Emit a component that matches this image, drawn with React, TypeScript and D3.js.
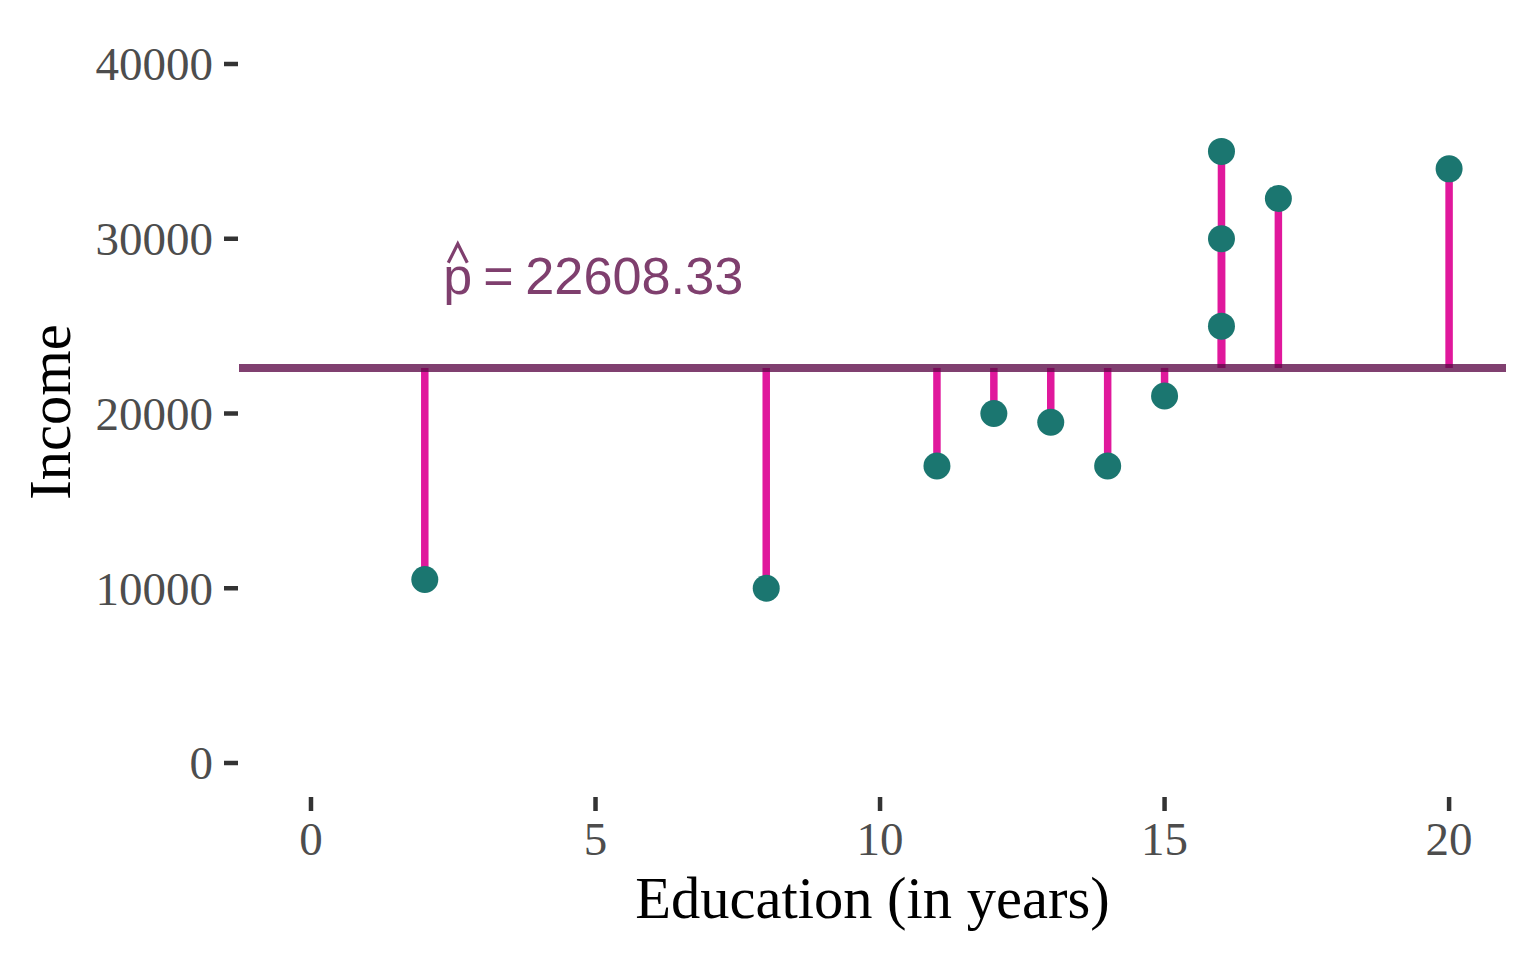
import React from "react";
import * as d3 from "d3";

const education = [2, 8, 11, 12, 13, 14, 15, 16, 16, 16, 17, 20];
const income = [10500, 10000, 17000, 20000, 19500, 17000, 21000, 35000, 30000, 25000, 32300, 34000];
const xTicks = [0, 5, 10, 15, 20];
const yTicks = [0, 10000, 20000, 30000, 40000];
const annotationX = 2.36;
const annotationY = 26850;

const W = 1536;
const H = 960;
const serif = "'Liberation Serif', 'Times New Roman', serif";

export default function App() {
  const meanIncome = d3.mean(income) as number;
  const x = d3.scaleLinear().domain([-1.265, 21.0]).range([239, 1506]);
  const y = d3.scaleLinear().domain([0, 40000]).range([763, 64]);
  const panelBottom = 797;
  const data = education.map((e, i) => ({ e, v: income[i] }));
  const label = meanIncome.toFixed(2);
  const ax = x(annotationX);
  const ay = y(annotationY);
  return (
    <svg width={W} height={H} style={{ position: "absolute", left: 0, top: 0, background: "#fff" }}>
      {data.map((d, i) => (
        <line key={"s" + i} x1={x(d.e)} x2={x(d.e)} y1={y(meanIncome)} y2={y(d.v)} stroke="#e0189c" strokeWidth={7.5} />
      ))}
      <line x1={239} x2={1506} y1={y(meanIncome)} y2={y(meanIncome)} stroke="#5c0a48" strokeOpacity={0.78} strokeWidth={8} />
      {data.map((d, i) => (
        <circle key={"p" + i} cx={x(d.e)} cy={y(d.v)} r={13.5} fill="#1b7670" />
      ))}
      <g fill="#7f3f6e" fontFamily="'Liberation Sans', Arial, sans-serif" fontSize={52}>
        <text x={ax - 2} y={ay}>p</text>
        <text x={ax + 38} y={ay}>=</text>
        <text x={ax + 80} y={ay} textLength={218} lengthAdjust="spacingAndGlyphs">{label}</text>
        <path
          d={`M${ax + 3},${ay - 31} L${ax + 12.5},${ay - 50} L${ax + 22},${ay - 31}`}
          fill="none"
          stroke="#7f3f6e"
          strokeWidth={3.2}
        />
      </g>
      {yTicks.map((t) => (
        <g key={"y" + t}>
          <line x1={224} x2={238} y1={y(t)} y2={y(t)} stroke="#333" strokeWidth={4.5} />
          <text x={213} y={y(t)} dy="0.35em" textAnchor="end" fill="#4d4d4d" fontFamily={serif} fontSize={47}>
            {t}
          </text>
        </g>
      ))}
      {xTicks.map((t) => (
        <g key={"x" + t}>
          <line x1={x(t)} x2={x(t)} y1={panelBottom} y2={panelBottom + 14} stroke="#333" strokeWidth={4.5} />
          <text x={x(t)} y={855} textAnchor="middle" fill="#4d4d4d" fontFamily={serif} fontSize={47}>
            {t}
          </text>
        </g>
      ))}
      <text x={872.5} y={918} textAnchor="middle" fill="#000" fontFamily={serif} fontSize={58.5}>
        Education (in years)
      </text>
      <text transform={`translate(70, 412) rotate(-90)`} textAnchor="middle" fill="#000" fontFamily={serif} fontSize={58.5}>
        Income
      </text>
    </svg>
  );
}
